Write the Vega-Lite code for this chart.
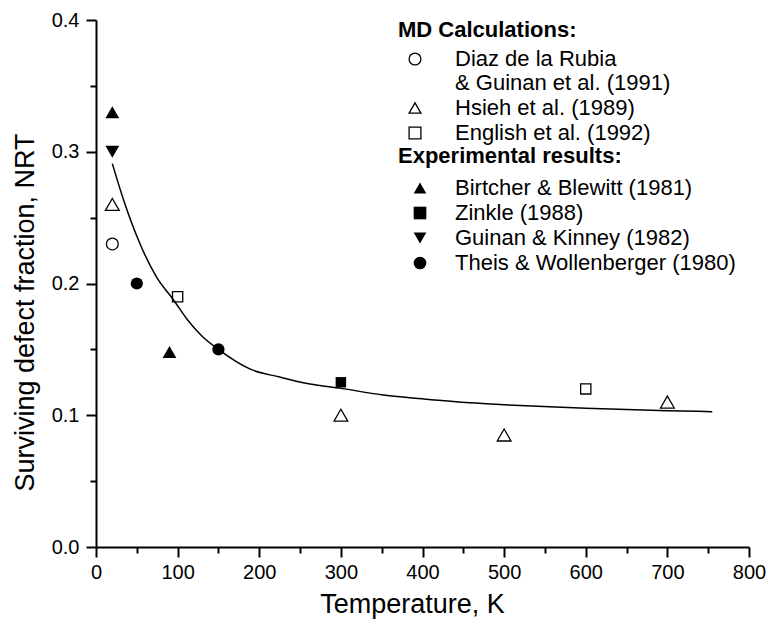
{
  "$schema": "https://vega.github.io/schema/vega-lite/v6.json",
  "width": 653,
  "height": 527,
  "autosize": {"type": "none"},
  "padding": {"left": 96, "top": 20, "right": 19, "bottom": 77},
  "background": "white",
  "config": {
    "view": {"stroke": null},
    "font": "Liberation Sans",
    "axis": {
      "grid": false,
      "domainColor": "black",
      "domainWidth": 2,
      "tickColor": "black",
      "tickWidth": 2,
      "labelColor": "black",
      "labelFont": "Liberation Sans",
      "labelFontSize": 20,
      "labelFlush": false,
      "labelOverlap": false,
      "titleColor": "black",
      "titleFont": "Liberation Sans",
      "titleFontSize": 27,
      "titleFontWeight": "normal"
    },
    "legend": {
      "orient": "none",
      "padding": 0,
      "titleFont": "Liberation Sans",
      "titleFontSize": 22,
      "titleFontWeight": "bold",
      "titleColor": "black",
      "titleLimit": 400,
      "labelFont": "Liberation Sans",
      "labelFontSize": 22,
      "labelColor": "black",
      "labelLimit": 400,
      "rowPadding": 3,
      "symbolStrokeColor": "black",
      "symbolStrokeWidth": 1.3,
      "symbolSize": 140
    }
  },
  "datasets": {
    "curve": [
      {"T": 20, "f": 0.291},
      {"T": 34, "f": 0.263},
      {"T": 54, "f": 0.230},
      {"T": 74, "f": 0.205},
      {"T": 95, "f": 0.1875},
      {"T": 112, "f": 0.1725},
      {"T": 130, "f": 0.160},
      {"T": 150, "f": 0.150},
      {"T": 189, "f": 0.135},
      {"T": 225, "f": 0.129},
      {"T": 262, "f": 0.1237},
      {"T": 300, "f": 0.1204},
      {"T": 350, "f": 0.1155},
      {"T": 400, "f": 0.1125},
      {"T": 458, "f": 0.1095},
      {"T": 500, "f": 0.108},
      {"T": 570, "f": 0.106},
      {"T": 600, "f": 0.1053},
      {"T": 700, "f": 0.1035},
      {"T": 755, "f": 0.1027}
    ],
    "md": [
      {"T": 20, "f": 0.23, "series": "Diaz de la Rubia & Guinan et al. (1991)"},
      {"T": 20, "f": 0.26, "series": "Hsieh et al. (1989)"},
      {"T": 300, "f": 0.10, "series": "Hsieh et al. (1989)"},
      {"T": 500, "f": 0.085, "series": "Hsieh et al. (1989)"},
      {"T": 700, "f": 0.11, "series": "Hsieh et al. (1989)"},
      {"T": 100, "f": 0.19, "series": "English et al. (1992)"},
      {"T": 600, "f": 0.12, "series": "English et al. (1992)"}
    ],
    "exp": [
      {"T": 20, "f": 0.33, "series": "Birtcher & Blewitt (1981)"},
      {"T": 90, "f": 0.148, "series": "Birtcher & Blewitt (1981)"},
      {"T": 300, "f": 0.125, "series": "Zinkle (1988)"},
      {"T": 20, "f": 0.30, "series": "Guinan & Kinney (1982)"},
      {"T": 50, "f": 0.20, "series": "Theis & Wollenberger (1980)"},
      {"T": 150, "f": 0.15, "series": "Theis & Wollenberger (1980)"}
    ]
  },
  "resolve": {
    "axis": {"x": "independent", "y": "independent"},
    "scale": {"shape": "independent"}
  },
  "layer": [
    {
      "data": {"name": "curve"},
      "mark": {"type": "line", "color": "black", "strokeWidth": 1.5, "interpolate": "monotone"},
      "encoding": {
        "x": {
          "field": "T",
          "type": "quantitative",
          "scale": {"domain": [0, 800], "nice": false, "zero": false},
          "axis": {
            "orient": "bottom",
            "values": [0, 100, 200, 300, 400, 500, 600, 700, 800],
            "tickSize": 10,
            "labelPadding": 5,
            "title": "Temperature, K",
            "titlePadding": 9,
            "titleX": 316
          }
        },
        "y": {
          "field": "f",
          "type": "quantitative",
          "scale": {"domain": [0, 0.4], "nice": false, "zero": false},
          "axis": {
            "orient": "left",
            "values": [0, 0.1, 0.2, 0.3, 0.4],
            "format": ".1f",
            "tickSize": 10,
            "labelPadding": 7,
            "title": "Surviving defect fraction, NRT",
            "titlePadding": 12,
            "titleY": 292
          }
        }
      }
    },
    {
      "data": {"name": "md"},
      "encoding": {
        "x": {
          "field": "T",
          "type": "quantitative",
          "axis": {
            "orient": "bottom",
            "values": [50, 150, 250, 350, 450, 550, 650, 750],
            "tickSize": 6,
            "labels": false,
            "domain": false,
            "title": null
          }
        },
        "y": {
          "field": "f",
          "type": "quantitative",
          "axis": {
            "orient": "left",
            "values": [0.05, 0.15, 0.25, 0.35],
            "tickSize": 6,
            "labels": false,
            "domain": false,
            "title": null
          }
        },
        "shape": {
          "field": "series",
          "type": "nominal",
          "scale": {
            "domain": ["Diaz de la Rubia & Guinan et al. (1991)", "Hsieh et al. (1989)", "English et al. (1992)"],
            "range": ["circle", "triangle-up", "square"]
          },
          "legend": {
            "title": "MD Calculations:",
            "legendX": 302,
            "legendY": 0,
            "titlePadding": 6,
            "symbolOffset": 6,
            "labelOffset": 29,
            "labelExpr": "datum.label == 'Diaz de la Rubia & Guinan et al. (1991)' ? ['Diaz de la Rubia', '& Guinan et al. (1991)'] : datum.label"
          }
        }
      },
      "layer": [
        {
          "transform": [{"filter": "datum.series == 'Diaz de la Rubia & Guinan et al. (1991)'"}],
          "mark": {"type": "point", "filled": false, "stroke": "black", "strokeWidth": 1.3, "opacity": 1, "size": 140}
        },
        {
          "transform": [{"filter": "datum.series == 'Hsieh et al. (1989)'"}],
          "mark": {"type": "point", "filled": false, "stroke": "black", "strokeWidth": 1.3, "opacity": 1, "size": 190}
        },
        {
          "transform": [{"filter": "datum.series == 'English et al. (1992)'"}],
          "mark": {"type": "point", "filled": false, "stroke": "black", "strokeWidth": 1.3, "opacity": 1, "size": 105}
        }
      ]
    },
    {
      "data": {"name": "exp"},
      "encoding": {
        "x": {"field": "T", "type": "quantitative", "axis": null},
        "y": {"field": "f", "type": "quantitative", "axis": null},
        "shape": {
          "field": "series",
          "type": "nominal",
          "scale": {
            "domain": ["Birtcher & Blewitt (1981)", "Zinkle (1988)", "Guinan & Kinney (1982)", "Theis & Wollenberger (1980)"],
            "range": ["triangle-up", "square", "triangle-down", "circle"]
          },
          "legend": {
            "title": "Experimental results:",
            "legendX": 302,
            "legendY": 126,
            "titlePadding": 9,
            "symbolOffset": 11,
            "labelOffset": 24,
            "symbolSize": 160,
            "symbolFillColor": "black"
          }
        }
      },
      "layer": [
        {
          "transform": [{"filter": "datum.series == 'Birtcher & Blewitt (1981)' || datum.series == 'Guinan & Kinney (1982)'"}],
          "mark": {"type": "point", "filled": true, "color": "black", "opacity": 1, "size": 190}
        },
        {
          "transform": [{"filter": "datum.series == 'Zinkle (1988)'"}],
          "mark": {"type": "point", "filled": true, "color": "black", "opacity": 1, "size": 110}
        },
        {
          "transform": [{"filter": "datum.series == 'Theis & Wollenberger (1980)'"}],
          "mark": {"type": "point", "filled": true, "color": "black", "opacity": 1, "size": 150}
        }
      ]
    }
  ]
}
